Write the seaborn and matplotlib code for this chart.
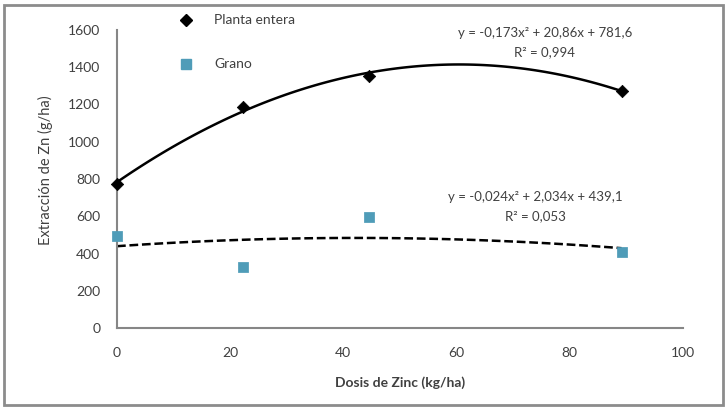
import numpy as np
import pandas as pd
import seaborn as sns
import matplotlib
matplotlib.use("Agg")
import matplotlib.pyplot as plt
from matplotlib.lines import Line2D
from matplotlib.patches import Rectangle

# Data
dosis = [0, 22.3, 44.6, 89.2]
planta_entera = [775, 1185, 1355, 1275]
grano = [495, 325, 595, 410]
series_names = ["Planta entera", "Grano"]
eq_planta = ["y = -0,173x² + 20,86x + 781,6", "R² = 0,994"]
eq_grano = ["y = -0,024x² + 2,034x + 439,1", "R² = 0,053"]
x_ticks = [0, 20, 40, 60, 80, 100]
y_ticks = [0, 200, 400, 600, 800, 1000, 1200, 1400, 1600]

sns.set_style("white")
plt.rcParams["font.family"] = ["Lato", "DejaVu Sans"]

df_p = pd.DataFrame({"x": dosis, "y": planta_entera})
df_g = pd.DataFrame({"x": dosis, "y": grano})

fig = plt.figure(figsize=(7.28, 4.09), dpi=100)
ax = fig.add_axes([0.1607, 0.198, 0.777, 0.7287])

gray = "#868686"
txt = "#404040"
blue = "#4f9cb8"

sns.regplot(data=df_p, x="x", y="y", order=2, ci=None, truncate=True, ax=ax,
            scatter=False, line_kws=dict(color="black", lw=1.8))
sns.regplot(data=df_g, x="x", y="y", order=2, ci=None, truncate=True, ax=ax,
            scatter=False, line_kws=dict(color="black", lw=1.8, ls=(0, (3.5, 1.5))))
sns.scatterplot(data=df_p, x="x", y="y", marker="D", s=40, color="black",
                edgecolor="black", ax=ax, zorder=5, clip_on=False)
sns.scatterplot(data=df_g, x="x", y="y", marker="s", s=45, color=blue,
                edgecolor=blue, ax=ax, zorder=5, clip_on=False)

ax.set_xlim(0, 100)
ax.set_ylim(0, 1600)
ax.set_xticks(x_ticks)
ax.set_yticks(y_ticks)
ax.tick_params(axis="both", direction="out", length=4, width=1, color=gray,
               labelsize=10, labelcolor=txt, pad=8)
ax.tick_params(axis="x", pad=10)
for s in ["top", "right"]:
    ax.spines[s].set_visible(False)
for s in ["left", "bottom"]:
    ax.spines[s].set_color(gray)
    ax.spines[s].set_linewidth(1.5)

ax.set_xlabel("Dosis de Zinc (kg/ha)", fontsize=10, fontweight="bold", color=txt, labelpad=12)
ax.set_ylabel("")
fig.text(0.062, 1 - 170 / 409, "Extracción de Zn (g/ha)", rotation=90, fontsize=10.5,
         color=txt, ha="center", va="center")

# Equations
fig.text(545 / 728, 1 - 33 / 409, eq_planta[0], fontsize=9.5, color=txt, ha="center", va="center")
fig.text(545 / 728, 1 - 52 / 409, eq_planta[1], fontsize=9.5, color=txt, ha="center", va="center")
fig.text(535 / 728, 1 - 197 / 409, eq_grano[0], fontsize=9.5, color=txt, ha="center", va="center")
fig.text(535 / 728, 1 - 216 / 409, eq_grano[1], fontsize=9.5, color=txt, ha="center", va="center")

# Legend
handles = [Line2D([], [], marker="D", ls="", color="black", markersize=6),
           Line2D([], [], marker="s", ls="", color=blue, markersize=7)]
fig.legend(handles, series_names, loc="upper left", bbox_to_anchor=(160 / 728, 1 - 2 / 409),
           frameon=False, fontsize=10, labelspacing=2.3, handletextpad=1.0,
           labelcolor=txt)

# Outer border
fig.add_artist(Rectangle((4 / 728, 4 / 409), 719 / 728, 400 / 409, transform=fig.transFigure,
                         fill=False, edgecolor="#8c8c8c", lw=2))

fig.savefig("out.png", dpi=100)
